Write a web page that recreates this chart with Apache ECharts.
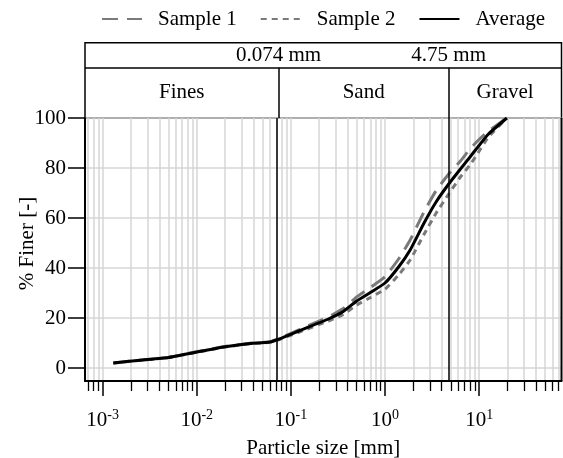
<!DOCTYPE html>
<html>
<head>
<meta charset="utf-8">
<script src="https://cdn.jsdelivr.net/npm/echarts@6/dist/echarts.min.js"></script>
<style>
html,body{margin:0;padding:0;background:#fff;}
#chart{width:563px;height:458px;}
</style>
</head>
<body>
<div id="chart"></div>
<script>
// ---- data ----
const sizes   = [0.0013, 0.0025, 0.005, 0.01, 0.02, 0.035, 0.06, 0.074, 0.125, 0.25, 0.36, 0.5, 0.7, 1.0, 1.4, 1.85, 2.6, 3.5, 4.75, 6.3, 8.0, 9.5, 12.5, 19.7];
const average = [2.0, 3.1, 4.2, 6.4, 8.5, 9.7, 10.4, 11.5, 15.0, 19.6, 22.6, 26.8, 30.2, 34.0, 40.5, 47.2, 58.0, 66.5, 73.6, 79.5, 84.4, 88.0, 93.5, 100];
const sample1 = [2.0, 3.1, 4.2, 6.5, 8.6, 9.8, 10.5, 11.7, 15.5, 20.4, 23.8, 28.4, 32.2, 36.5, 43.7, 51.2, 62.5, 71.0, 77.6, 82.7, 87.6, 90.6, 94.7, 100];
const sample2 = [2.0, 3.1, 4.2, 6.3, 8.4, 9.6, 10.3, 11.3, 14.5, 18.8, 21.4, 25.2, 28.2, 31.5, 37.3, 43.2, 53.5, 62.0, 69.6, 76.3, 81.2, 85.4, 92.3, 100];
const xTickLabels = [0.001, 0.01, 0.1, 1, 10];
const xMinorTicks = [2,3,4,5,6,7,8,9].flatMap(m => [0.0001,0.001,0.01,0.1,1,10].map(d => +(m*d).toPrecision(3)));
const yTicks = [0, 20, 40, 60, 80, 100];
const boundaries = [0.074, 4.75];
const boundaryLabels = ['0.074 mm', '4.75 mm'];
const classNames = ['Fines', 'Sand', 'Gravel'];
const xMin = 0.00065, xMax = 75;
const yMin = -5.2, yMax = 100;

const FONT = "'Liberation Serif','Times New Roman',serif";
const GRID_COLOR = '#d6d6d6';
const pts = arr => sizes.map((s, i) => [s, arr[i]]);
const edges = [xMin, ...boundaries, xMax];
const classCenters = classNames.map((n, i) => [Math.sqrt(edges[i] * edges[i + 1]), 1, n]);
// plot frame (left, bottom, right edges) along the axis extents
const frameCorners = [[xMin, yMax], [xMin, yMin], [xMax, yMin], [xMax, yMax]];

const chart = echarts.init(document.getElementById('chart'), null, {renderer: 'canvas'});
chart.setOption({
  backgroundColor: '#fff',
  animation: false,
  textStyle: {fontFamily: FONT, color: '#000'},
  legend: {
    left: 101, top: 7, padding: 0,
    itemWidth: 40, itemHeight: 14, itemGap: 23,
    itemStyle: {opacity: 0},
    textStyle: {fontFamily: FONT, fontSize: 21, color: '#000', padding: [0, 0, 0, 11], lineHeight: 24},
    data: ['Sample 1', 'Sample 2', 'Average']
  },
  grid: [
    {left: 85, right: 1.5, top: 118, bottom: 77, show: false, outerBoundsMode: 'none'},
    {left: 85, right: 1.5, top: 42.7, height: 75.3, show: true, borderColor: '#000', borderWidth: 1.5, outerBoundsMode: 'none'}
  ],
  xAxis: [
    {
      type: 'log', logBase: 10, min: xMin, max: xMax, gridIndex: 0, position: 'bottom',
      name: 'Particle size [mm]', nameLocation: 'middle', nameGap: 57, nameMoveOverlap: false,
      nameTextStyle: {fontFamily: FONT, fontSize: 21, color: '#000'},
      axisLine: {show: true, onZero: false, lineStyle: {color: '#000', width: 2}},
      axisTick: {show: true, customValues: xTickLabels, length: 15, lineStyle: {color: '#000', width: 1.5}},
      axisLabel: {
        show: true, customValues: xTickLabels, margin: 27,
        fontFamily: FONT, fontSize: 21, color: '#000',
        formatter: v => '{b|10}{s|' + Math.round(Math.log10(v)) + '}',
        rich: {
          b: {fontFamily: FONT, fontSize: 21, color: '#000'},
          s: {fontFamily: FONT, fontSize: 14, color: '#000', padding: [0, 0, 11, 0]}
        }
      },
      splitLine: {show: true, lineStyle: {color: GRID_COLOR, width: 1.5}}
    },
    {
      type: 'log', logBase: 10, min: xMin, max: xMax, gridIndex: 0, position: 'top', offset: -263,
      axisLine: {show: false, onZero: false},
      axisTick: {show: true, inside: true, customValues: xMinorTicks, length: 10, lineStyle: {color: '#000', width: 1.3}},
      axisLabel: {show: false},
      splitLine: {show: true, lineStyle: {color: GRID_COLOR, width: 1.5}}
    },
    {
      type: 'log', logBase: 10, min: xMin, max: xMax, gridIndex: 1, show: false
    }
  ],
  yAxis: [
    {
      type: 'value', min: yMin, max: yMax, gridIndex: 0, position: 'left',
      name: '% Finer [-]', nameLocation: 'middle', nameGap: 47, nameRotate: 90, nameMoveOverlap: false,
      nameTextStyle: {fontFamily: FONT, fontSize: 21, color: '#000', padding: [0, 0, 0, 12]},
      axisLine: {show: true, onZero: false, lineStyle: {color: '#000', width: 2}},
      axisTick: {show: true, customValues: yTicks, length: 17, lineStyle: {color: '#000', width: 1.5}},
      axisLabel: {show: true, customValues: yTicks, margin: 19, fontFamily: FONT, fontSize: 21, color: '#000'},
      splitLine: {show: true, lineStyle: {color: GRID_COLOR, width: 1.5}}
    },
    {type: 'value', min: 0, max: 3, gridIndex: 1, show: false}
  ],
  series: [
    {
      name: 'Sample 1', type: 'line', xAxisIndex: 0, yAxisIndex: 0, data: pts(sample1),
      symbol: 'none', smooth: 0.15, z: 3,
      lineStyle: {color: '#7a7a7a', width: 3, type: [16, 9]},
      itemStyle: {color: '#7a7a7a'}
    },
    {
      name: 'Sample 2', type: 'line', xAxisIndex: 0, yAxisIndex: 0, data: pts(sample2),
      symbol: 'none', smooth: 0.15, z: 3,
      lineStyle: {color: '#7a7a7a', width: 3, type: [6, 5]},
      itemStyle: {color: '#7a7a7a'}
    },
    {
      name: 'Average', type: 'line', xAxisIndex: 0, yAxisIndex: 0, data: pts(average),
      symbol: 'none', smooth: 0.15, z: 4,
      lineStyle: {color: '#000', width: 3},
      itemStyle: {color: '#000'},
      markLine: {
        silent: true, symbol: 'none', label: {show: false},
        lineStyle: {color: '#000', width: 1.5, type: 'solid'},
        data: boundaries.map(b => ({xAxis: b}))
      }
    },
    {
      name: 'frame', type: 'line', xAxisIndex: 0, yAxisIndex: 0, data: frameCorners,
      symbol: 'none', clip: false, silent: true, z: 10,
      lineStyle: {color: '#000', width: 2},
      itemStyle: {color: '#000'}
    },
    {
      name: 'header', type: 'scatter', xAxisIndex: 2, yAxisIndex: 1, symbolSize: 0, silent: true,
      itemStyle: {opacity: 1},
      data: [...boundaries.map((b, i) => [b, 2.5, boundaryLabels[i]]), ...classCenters],
      label: {
        show: true, position: 'inside', formatter: p => p.data[2],
        fontFamily: FONT, fontSize: 21, color: '#000', opacity: 1
      },
      markLine: {
        silent: true, symbol: 'none', label: {show: false},
        lineStyle: {color: '#000', width: 1.5, type: 'solid'},
        data: [
          ...boundaries.map(b => [{coord: [b, 0]}, {coord: [b, 2]}]),
          [{coord: [xMin, 2]}, {coord: [xMax, 2]}]
        ]
      }
    }
  ]
});
</script>
</body>
</html>
